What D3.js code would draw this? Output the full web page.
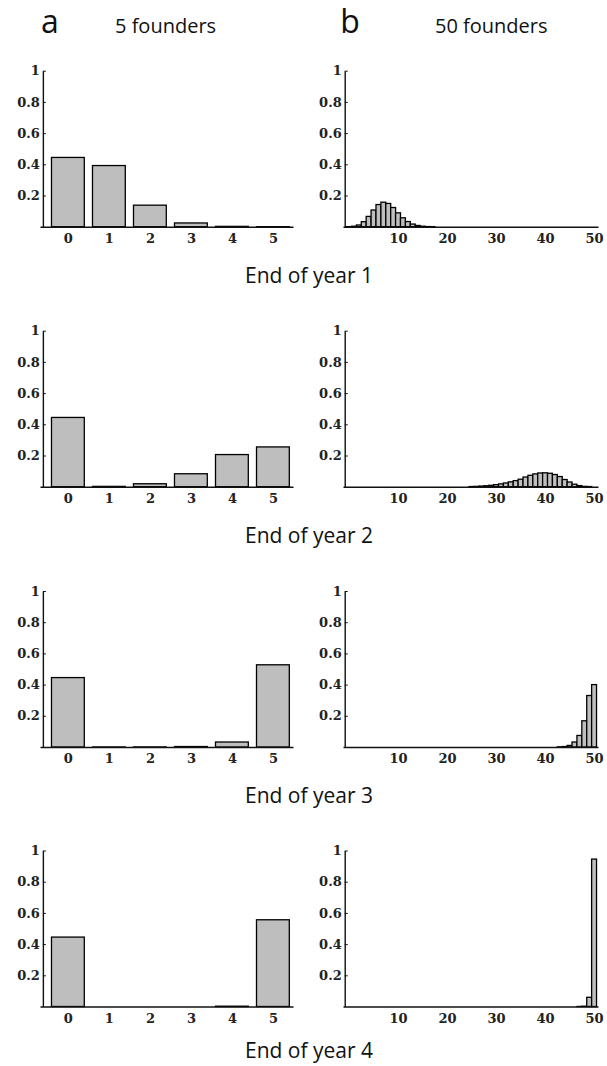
<!DOCTYPE html>
<html>
<head>
<meta charset="utf-8">
<script src="https://cdn.jsdelivr.net/npm/d3@7"></script>
<style>
  body { margin: 0; background: #fff; }
  svg { display: block; }
</style>
</head>
<body>
<div id="chart"></div>
<script>
// probability of k surviving lines, 5 founders (k = 0..5)
const fewCounts = [0, 1, 2, 3, 4, 5];
const few1 = [0.444, 0.392, 0.138, 0.024, 0.002, 0.0001];
const few2 = [0.444, 0.002, 0.019, 0.083, 0.206, 0.255];
const few3 = [0.445, 0.0003, 0.0005, 0.003, 0.032, 0.527];
const few4 = [0.445, 0, 0, 0, 0.002, 0.556];

// 50 founders: values listed from the first k in manyStart
const manyStart = [0, 25, 43, 47];
const many1 = [0.0003, 0.003, 0.011, 0.032, 0.066, 0.107, 0.142, 0.157, 0.149, 0.123,
  0.089, 0.057, 0.033, 0.017, 0.008, 0.003, 0.001, 0.0005];
const many2 = [0.001, 0.002, 0.004, 0.006, 0.009, 0.013, 0.018, 0.024, 0.031, 0.039,
  0.048, 0.062, 0.073, 0.082, 0.088, 0.089, 0.086, 0.078, 0.065, 0.046,
  0.030, 0.016, 0.007, 0.002, 0.001];
const many3 = [0.001, 0.003, 0.010, 0.032, 0.074, 0.168, 0.330, 0.400];
const many4 = [0.0003, 0.002, 0.059, 0.945];

const yTicks = [0.2, 0.4, 0.6, 0.8, 1];
const fewTicks = [0, 1, 2, 3, 4, 5];
const manyTicks = [10, 20, 30, 40, 50];
const captions = ["End of year 1", "End of year 2", "End of year 3", "End of year 4"];

const fewData = [few1, few2, few3, few4];
const manyData = [many1, many2, many3, many4];

const width = 607, height = 1066;
const baselines = [226.7, 486.7, 747, 1006.5];
const panelH = 156;

const svg = d3.select("#chart").append("svg")
  .attr("width", width)
  .attr("height", height);

const xFew = d3.scaleLinear().domain([-0.68, 5.49]).range([40, 293]);
const xMany = d3.scaleLinear().domain([-1.23, 50.8]).range([343, 598]);

const serif = "'DejaVu Serif', serif";
const sans = "'Open Sans', sans-serif";

function drawPanel(g, x, yAxisAt, ticks, bars, barW, y) {
  g.selectAll("rect")
    .data(bars)
    .join("rect")
    .attr("x", d => x(d.k - barW / 2))
    .attr("width", x(barW) - x(0))
    .attr("y", d => y(d.p))
    .attr("height", d => y(0) - y(d.p))
    .attr("fill", "#bebebe")
    .attr("stroke", "#000")
    .attr("stroke-width", 1.3);

  const xa = g.append("g")
    .attr("transform", `translate(0,${y(0)})`)
    .call(d3.axisBottom(x).tickValues(ticks).tickSize(0).tickPadding(7).tickSizeOuter(0)
      .tickFormat(d3.format("d")));
  xa.select(".domain").attr("stroke", "#111").attr("stroke-width", 1.4);
  xa.selectAll("text").style("font-family", serif).style("font-size", "13px")
    .style("font-weight", "bold").attr("fill", "#222");

  const ya = g.append("g")
    .attr("transform", `translate(${x(yAxisAt)},0)`)
    .call(d3.axisLeft(y).tickValues(yTicks).tickSize(-3).tickPadding(3).tickSizeOuter(0)
      .tickFormat(d => d === 1 ? "1" : d3.format(".1f")(d)));
  ya.select(".domain").attr("stroke", "#111").attr("stroke-width", 1.4);
  ya.selectAll("line").attr("stroke", "#111");
  ya.selectAll("text").style("font-family", serif).style("font-size", "13px")
    .style("font-weight", "bold").attr("fill", "#222");
}

baselines.forEach((b, i) => {
  const y = d3.scaleLinear().domain([0, 1]).range([b, b - panelH]);

  const fewBars = fewCounts.map((k, j) => ({ k: k, p: fewData[i][j] }));
  drawPanel(svg.append("g"), xFew, -0.61, fewTicks, fewBars, 0.8, y);

  const manyBars = manyData[i].map((p, j) => ({ k: manyStart[i] + j, p: p }));
  drawPanel(svg.append("g"), xMany, -0.88, manyTicks, manyBars, 1, y);

  svg.append("text")
    .attr("x", 309)
    .attr("y", Math.min(b + 56, height - 8))
    .attr("text-anchor", "middle")
    .style("font-family", sans)
    .style("font-size", "21px")
    .attr("fill", "#111")
    .text(captions[i]);
});

// column headers
svg.append("text").attr("x", 50).attr("y", 33).attr("text-anchor", "middle")
  .style("font-family", sans).style("font-size", "32px").attr("fill", "#111").text("a");
svg.append("text").attr("x", 115).attr("y", 33)
  .style("font-family", sans).style("font-size", "20px").attr("fill", "#111").text("5 founders");
svg.append("text").attr("x", 350).attr("y", 33).attr("text-anchor", "middle")
  .style("font-family", sans).style("font-size", "32px").attr("fill", "#111").text("b");
svg.append("text").attr("x", 435).attr("y", 33)
  .style("font-family", sans).style("font-size", "20px").attr("fill", "#111").text("50 founders");
</script>
</body>
</html>
